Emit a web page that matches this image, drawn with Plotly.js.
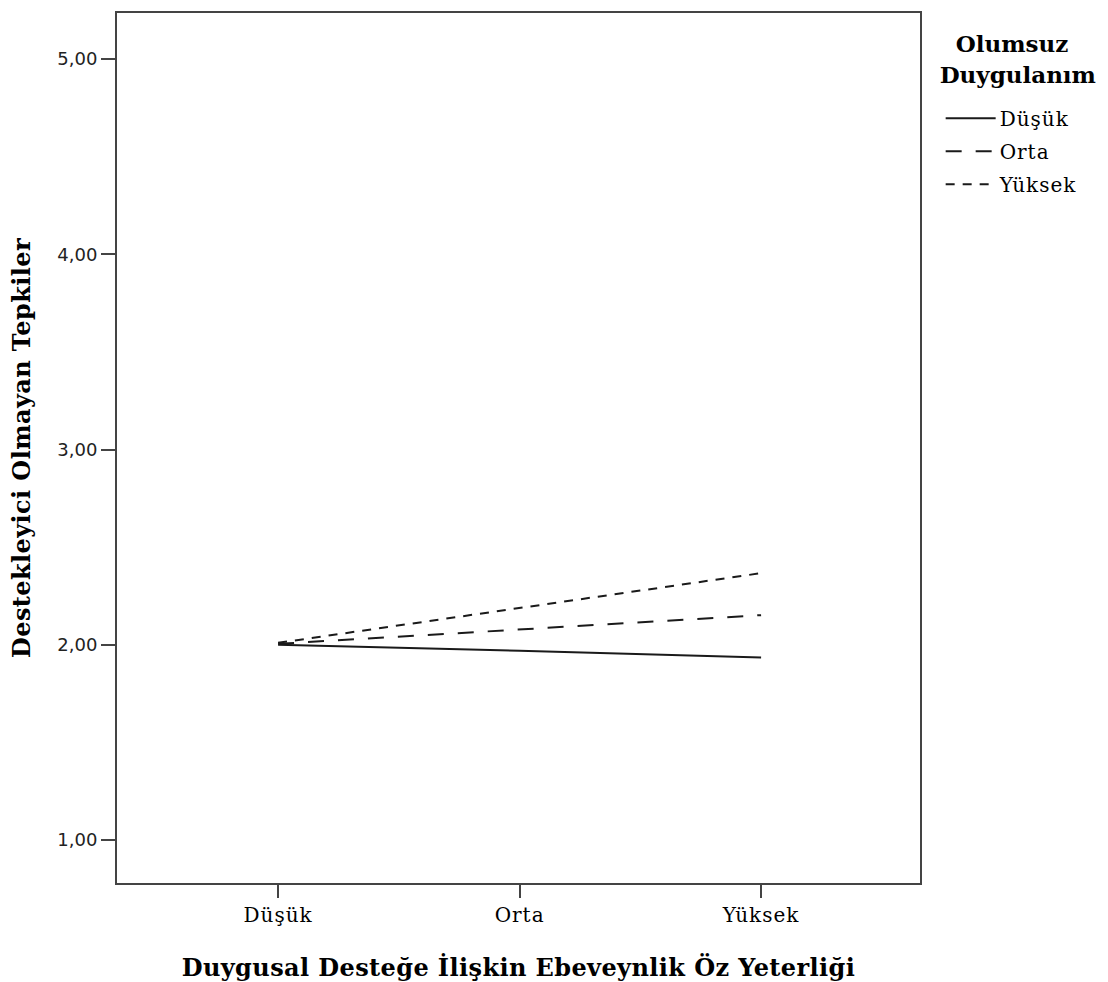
<!DOCTYPE html>
<html>
<head>
<meta charset="utf-8">
<script src="https://cdn.plot.ly/plotly-3.0.1.min.js"></script>
<style>
  html, body { margin: 0; padding: 0; background: #fff; }
  #chart { width: 1108px; height: 982px; }
  .xtick text, .legendtext { letter-spacing: 1px; }
  .xtitle, .ytitle { letter-spacing: 0.4px; }
  .legendlines path { d: path("M8,0h50"); }
</style>
</head>
<body>
<div id="chart"></div>
<script>
// Categories on the x axis (Duygusal Desteğe İlişkin Ebeveynlik Öz Yeterliği)
const categories = ["Düşük", "Orta", "Yüksek"];

// Series: Olumsuz Duygulanım levels
const seriesNames = ["Düşük", "Orta", "Yüksek"];
const dusukValues  = [2.00, 1.97, 1.935];
const ortaValues   = [2.005, 2.08, 2.152];
const yuksekValues = [2.01, 2.19, 2.367];

// Y tick labels
const yTickVals = [1, 2, 3, 4, 5];
const yTickText = ["1,00", "2,00", "3,00", "4,00", "5,00"];

// Legend title lines
const legendTitleLines = ["Olumsuz", "Duygulanım"];

const lineColor = "#1a1a1a";
const dashes = ["solid", "16px,14px", "9px,8px"];
const seriesValues = [dusukValues, ortaValues, yuksekValues];

const traces = seriesNames.map((name, i) => ({
  type: "scatter",
  mode: "lines",
  name: name,
  legendgroup: "g" + i,
  x: categories,
  y: seriesValues[i],
  line: { color: lineColor, width: 2, dash: dashes[i] },
  hoverinfo: "x+y+name"
}));

const serif = "DejaVu Serif, Liberation Serif, serif";
const sans = "DejaVu Sans, Liberation Sans, sans-serif";

const big = (s) => "<span style='font-size:23px'><b>" + s + "</b></span>";
const legendTitle =
  "&nbsp;<br>" + big("&nbsp;&nbsp;" + legendTitleLines[0]) + "<br>&nbsp;<br>" +
  big(legendTitleLines[1]) + "<br>&nbsp;";

const layout = {
  width: 1108,
  height: 982,
  paper_bgcolor: "#ffffff",
  plot_bgcolor: "#ffffff",
  margin: { l: 117, r: 188, t: 13, b: 99, autoexpand: false },
  showlegend: true,
  legend: {
    x: 1.022, xanchor: "left",
    y: 0.991, yanchor: "top",
    bgcolor: "rgba(0,0,0,0)",
    font: { family: serif, size: 20, color: "#000" },
    title: {
      text: legendTitle,
      side: "top",
      font: { family: serif, size: 12, color: "#000" }
    },
    itemwidth: 52,
    tracegroupgap: 4
  },
  xaxis: {
    type: "category",
    categoryorder: "array",
    categoryarray: categories,
    range: [-0.667, 2.658],
    showgrid: false,
    zeroline: false,
    showline: true,
    mirror: true,
    linecolor: "#444",
    linewidth: 2,
    ticks: "outside",
    ticklen: 13,
    tickwidth: 2,
    tickcolor: "#444",
    tickfont: { family: serif, size: 20, color: "#000" },
    title: {
      text: "<b>Duygusal Desteğe İlişkin Ebeveynlik Öz Yeterliği</b>",
      font: { family: serif, size: 24, color: "#000" },
      standoff: 36
    },
    automargin: false
  },
  yaxis: {
    range: [0.78, 5.236],
    tickvals: yTickVals,
    ticktext: yTickText,
    showgrid: false,
    zeroline: false,
    showline: true,
    mirror: true,
    linecolor: "#444",
    linewidth: 2,
    ticks: "outside",
    ticklen: 14,
    tickwidth: 2,
    tickcolor: "#444",
    tickfont: { family: sans, size: 18, color: "#222" },
    title: {
      text: "<b>Destekleyici Olmayan Tepkiler</b>",
      font: { family: serif, size: 24, color: "#000" },
      standoff: 20
    },
    automargin: false
  }
};

Plotly.newPlot("chart", traces, layout, { displayModeBar: false });
</script>
</body>
</html>
